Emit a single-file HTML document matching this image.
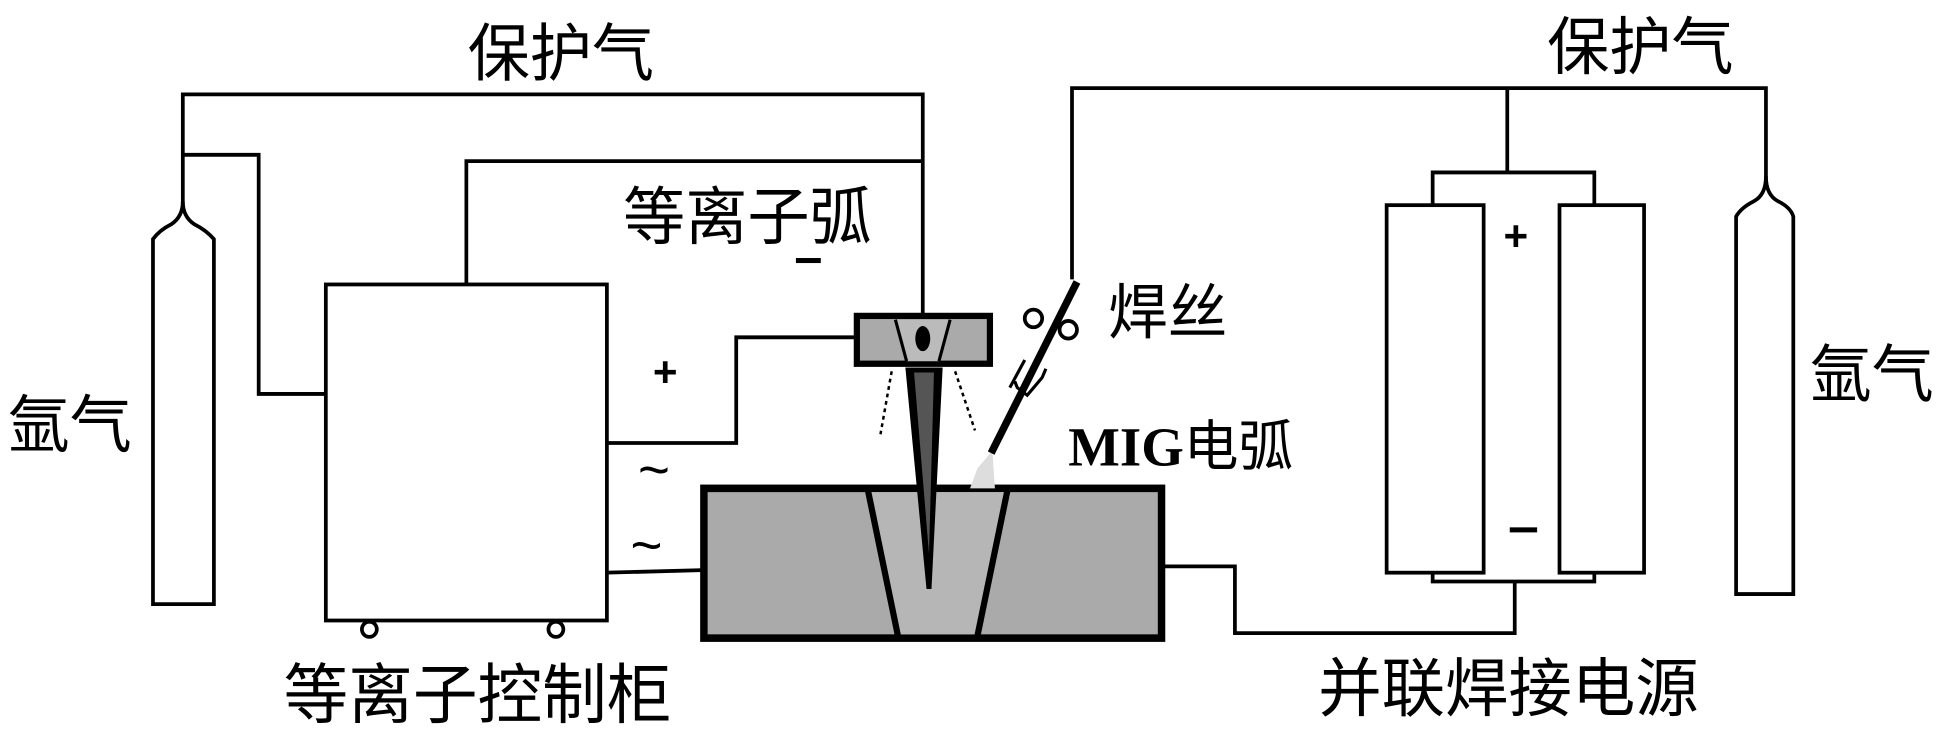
<!DOCTYPE html>
<html><head><meta charset="utf-8"><style>html,body{margin:0;padding:0;background:#fff}svg{display:block}</style></head>
<body>
<svg width="1950" height="730" viewBox="0 0 1568 580" preserveAspectRatio="none" xmlns="http://www.w3.org/2000/svg">
<g fill="none" stroke="#000" stroke-width="3">
<polyline points="147,170 147,75 742,75 742,250"/>
<polyline points="147,123 208,123 208,313 262,313"/>
<polyline points="375,226 375,128 742,128"/>
<path d="M123,480 V190 Q128,183 138,178 Q147,172 147,160 Q147,172 156,178 Q166,183 172,190 V480 Z" fill="#fff"/>
<rect x="262" y="226" width="226" height="267" fill="#fff"/>
<circle cx="297" cy="500" r="6" fill="#fff"/>
<circle cx="447" cy="500" r="6" fill="#fff"/>
<polyline points="488,352 592,352 592,268 688,268"/>
<polyline points="488,455 565,453"/>
<polyline points="862,222 862,70 1420,70 1420,143"/>
<polyline points="1212,70 1212,137"/>
<polyline points="1152,163 1152,137 1282,137 1282,163"/>
<rect x="1115" y="163" width="78" height="292" fill="#fff"/>
<rect x="1254" y="163" width="68" height="292" fill="#fff"/>
<polyline points="1152,455 1152,462 1282,462 1282,455"/>
<polyline points="1218,462 1218,503 993,503 993,450 935,450"/>
<path d="M1396,472 V172 Q1400,165 1410,160 Q1420,155 1420,140 Q1420,155 1430,160 Q1440,165 1442,172 V472 Z" fill="#fff"/>
</g>
<rect x="566" y="388" width="368" height="119" fill="#aaa" stroke="#000" stroke-width="6"/>
<polygon points="698,391 810,391 786,504 722,504" fill="#b6b6b6"/>
<g stroke="#000" stroke-width="5" fill="none">
<line x1="698" y1="390" x2="722" y2="505"/>
<line x1="810" y1="390" x2="786" y2="505"/>
</g>
<rect x="689" y="251" width="107" height="38" fill="#aaa" stroke="#000" stroke-width="5"/>
<polygon points="720,254 764,254 755,287 729,287" fill="#bbb"/>
<g stroke="#000" stroke-width="2.5"><line x1="720" y1="254" x2="729" y2="287"/><line x1="764" y1="254" x2="755" y2="287"/></g>
<ellipse cx="742" cy="269" rx="6" ry="10" fill="#000"/>
<polygon points="728,292 758,292 749,468 745,468" fill="#000"/>
<polygon points="735,296 751,296 747,440" fill="#555"/>
<g stroke="#000" stroke-width="2" stroke-dasharray="3,3"><line x1="717" y1="295" x2="708" y2="345"/><line x1="768" y1="295" x2="784" y2="342"/></g>
<path d="M786,372 L798,358 L800,388 L780,388 Z" fill="#ddd"/>
<line x1="866" y1="224" x2="797" y2="360" stroke="#000" stroke-width="6"/>
<circle cx="831" cy="253" r="7" fill="none" stroke="#000" stroke-width="3"/>
<circle cx="859" cy="262" r="7" fill="none" stroke="#000" stroke-width="3"/>
<polyline points="816,303 818,308 826,314 838,300 841,293" fill="none" stroke="#000" stroke-width="2.5"/>
<polyline points="824,286 812,308" fill="none" stroke="#000" stroke-width="2.5"/>
<g font-family="Liberation Sans, 'Noto Sans CJK SC', sans-serif" fill="#000">
<text x="376" y="60" font-size="50">保护气</text>
<text x="1244" y="55" font-size="50">保护气</text>
<text x="501" y="190" font-size="50">等离子弧</text>
<text x="891" y="265" font-size="48">焊丝</text>
<text x="6" y="355" font-size="50">氩气</text>
<text x="1455" y="315" font-size="50">氩气</text>
<text x="228" y="570" font-size="52">等离子控制柜</text>
<text x="1060" y="565" font-size="51">并联焊接电源</text>
<text x="525" y="307" font-size="34" font-weight="bold">+</text>
<text x="1209" y="199" font-size="34" font-weight="bold">+</text>
<text x="513" y="388" font-size="44">~</text>
<text x="507" y="448" font-size="44">~</text>
</g>
<rect x="640" y="205" width="20" height="4" fill="#000"/>
<rect x="1214" y="419" width="22" height="4" fill="#000"/>
<text x="859" y="370" font-family="Liberation Serif, 'Noto Serif CJK SC', serif" font-weight="bold" font-size="44">MIG<tspan font-family="'Noto Sans CJK SC', sans-serif" font-weight="normal">电弧</tspan></text>
</svg>
</body></html>
